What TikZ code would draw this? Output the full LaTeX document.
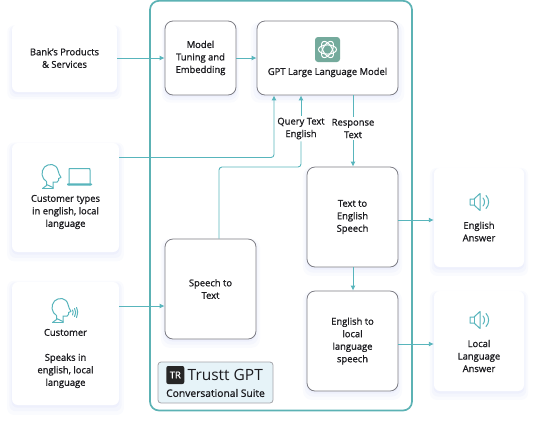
\documentclass[tikz,border=0pt]{standalone}
\usepackage{fontspec}
\setmainfont{Open Sans}[FakeBold=1.1]
\newfontfamily\plainfont{Open Sans}
\usepackage{xcolor}
\usetikzlibrary{positioning, arrows.meta, calc, shadows}

\definecolor{suiteteal}{RGB}{92,178,180}
\definecolor{linkteal}{RGB}{88,181,188}
\definecolor{boxgray}{RGB}{125,125,132}
\definecolor{inkdark}{RGB}{28,28,32}
\definecolor{cardshade}{RGB}{200,208,245}
\definecolor{logogreen}{RGB}{116,170,156}
\definecolor{badgeblue}{RGB}{230,243,248}
\newcommand{\labelsize}{\fontsize{9.4}{12.5}\selectfont}

\tikzset{
    softshade/.style={
        general shadow={fill=cardshade, opacity=0.09, shadow yshift=-4pt, shadow scale=1.09},
        general shadow={fill=cardshade, opacity=0.12, shadow yshift=-3pt, shadow scale=1.05},
        general shadow={fill=cardshade, opacity=0.15, shadow yshift=-2pt, shadow scale=1.01}},
    card/.style={rectangle, rounded corners=6pt, fill=white, softshade, font=\labelsize,
        align=center, text=inkdark, inner sep=0pt},
    stage/.style={rectangle, rounded corners=8pt, draw=boxgray, line width=0.8pt, fill=white,
        softshade, font=\labelsize, align=center, text=inkdark, inner sep=0pt},
    txt/.style={font=\labelsize, align=center, text=inkdark, inner sep=0pt},
    link/.style={draw=linkteal, line width=0.9pt},
    arrow/.style={link, -{Latex[length=5pt, width=5pt]}},
    iconline/.style={draw=linkteal, line width=1pt, line join=round, line cap=round},
    speaker/.pic={
        \draw[iconline] (-9,-3) -- (-5,-3) -- (1,-8.5) -- (1,8.5) -- (-5,3) -- (-9,3) -- cycle;
        \draw[iconline] (-5,-3) -- (-5,3);
        \draw[iconline] (4,-4) .. controls (6,-2) and (6,2) .. (4,4);
        \draw[iconline] (7,-6.5) .. controls (10.5,-3) and (10.5,3) .. (7,6.5);
    },
    headicon/.pic={
        \draw[iconline] (-9,12) -- (-5,9) -- (-5,5) .. controls (-10,2) and (-11,-5) .. (-7,-9.5)
            .. controls (-3,-13.5) and (5,-13) .. (6.5,-6) .. controls (7,-3.5) and (8,-1.5) .. (9.5,1)
            -- (7,2) -- (7,4) .. controls (7,6) and (4.5,6) .. (1.5,5.5) -- (1.5,12);
        \draw[iconline] (-9,12) -- (1.5,12);
        \draw[iconline] (-5,8) -- (1.5,11);
    }
}

\begin{document}
\begin{tikzpicture}[x=1pt, y=-1pt]
    \useasboundingbox (0,0) rectangle (540,424);
    % outer suite frame
    \draw[draw=suiteteal, line width=1.7pt, rounded corners=9pt] (150,0.8) rectangle (412,410.5);
    % left input cards
    \node[card, minimum width=105pt, minimum height=68pt] (bank) at (64.5,58)
        {Bank's Products\\\& Services};
    \node[card, minimum width=107pt, minimum height=109pt] (ctypes) at (65.5,197.5) {};
    \node[card, minimum width=107pt, minimum height=123pt] (cust) at (65.5,343.5) {};
    % right answer cards
    \node[card, minimum width=90pt, minimum height=99pt] (engans) at (479,217.5) {};
    \node[card, minimum width=90pt, minimum height=100pt] (localans) at (479,341) {};
    % processing stages
    \node[stage, minimum width=71pt, minimum height=74pt] (tuning) at (200.5,58)
        {Model\\Tuning and\\Embedding};
    \node[stage, minimum width=141pt, minimum height=74pt] (gpt) at (327.5,58) {};
    \node[stage, minimum width=91pt, minimum height=100pt] (speech) at (210.5,289) {Speech to\\Text};
    \node[stage, minimum width=91pt, minimum height=100pt] (texteng) at (352.5,217) {Text to\\English\\Speech};
    \node[stage, minimum width=91pt, minimum height=100pt] (englocal) at (352.5,341)
        {English to\\local\\language\\speech};
    % text on the cards
    \node[txt] (gptlabel) at (327.5,72.5) {GPT Large Language Model};
    \node[txt] (ctypeslabel) at (65.5,212) {Customer types\\in english, local\\language};
    \node[txt] (custlabel) at (65.5,358.5) {Customer\\[12.5pt]Speaks in\\english, local\\language};
    \node[txt] (enganslabel) at (479,231.5) {English\\Answer};
    \node[txt] (localanslabel) at (479,356) {Local\\Language\\Answer};
    \node[txt, fill=white, inner sep=2pt] (query) at (301,128.5) {Query Text\\English};
    \node[txt, fill=white, inner sep=2pt] (response) at (353,128.5) {Response\\Text};
    % turning points
    \coordinate (typesturn) at (274,157.5);
    \coordinate (speechturn) at (219,167);
    \coordinate (custrow) at (119,306);
    \coordinate (engrow) at (398,220);
    \coordinate (localrow) at (398,344);
    % connectors
    \draw[arrow] (bank.east) -- (tuning.west);
    \draw[arrow] (tuning.east) -- (gpt.west);
    \draw[arrow, rounded corners=3pt] (ctypes.east |- typesturn) -- (typesturn) -- (gpt.south -| typesturn);
    \draw[link, rounded corners=3pt] (speech.north -| speechturn) -- (speechturn) -- (query.south |- speechturn) -- (query.south);
    \draw[arrow] (query.north) -- (gpt.south -| query.north);
    \draw[link] (gpt.south -| response.north) -- (response.north);
    \draw[arrow] (response.south) -- (texteng.north -| response.south);
    \draw[arrow] (custrow) -- (speech.west |- custrow);
    \draw[arrow] (engrow) -- (engans.west |- engrow);
    \draw[arrow] (texteng.south -| response.south) -- (englocal.north -| response.south);
    \draw[arrow] (localrow) -- (localans.west |- localrow);
    % logo in the model box
    \fill[logogreen, rounded corners=3pt] (315,37) rectangle (340,62);
    \foreach \a in {0,60,120}{
        \draw[white, line width=1pt, rotate around={\a:(327.5,49.5)}] (327.5,49.5) ellipse (9 and 4.6);
    }
    % icons
    \pic at (51.5,176.5) {headicon};
    \pic at (61.5,310.5) {headicon};
    \draw[iconline] (69,185) -- (69,170) .. controls (69,168.5) .. (70.5,168.5) -- (88.5,168.5)
        .. controls (90,168.5) .. (90,170) -- (90,185);
    \draw[iconline, rounded corners=1pt] (67.5,185) -- (91.5,185) -- (91.5,183.8) -- (67.5,183.8) -- cycle;
    \draw[iconline] (72.5,310) .. controls (73.5,312) .. (72.5,315)
        (74.5,308.5) .. controls (76,312) .. (74.5,316.5)
        (76.5,307.5) .. controls (78,312) .. (76.5,317.5);
    \pic at (479,202) {speaker};
    \pic at (479,320) {speaker};
    % product badge
    \node[rectangle, rounded corners=3pt, draw=boxgray!70, fill=badgeblue, line width=0.8pt,
        minimum width=115pt, minimum height=41pt] (badge) at (215.5,382.5) {};
    \node[rectangle, rounded corners=2pt, fill=black!85, text=white, inner sep=0pt, minimum size=18pt,
        font=\fontsize{9.5}{10}\selectfont] (badgelogo) at (175.3,375) {TR};
    \node[right=3pt of badgelogo, inner sep=0pt, text=inkdark,
        font=\plainfont\fontsize{15.5}{16}\selectfont] (brand) {Trustt GPT};
    \node[inner sep=0pt, text=inkdark, font=\fontsize{10.3}{12}\selectfont] (suite) at (215.5,393)
        {Conversational Suite};
\end{tikzpicture}
\end{document}
